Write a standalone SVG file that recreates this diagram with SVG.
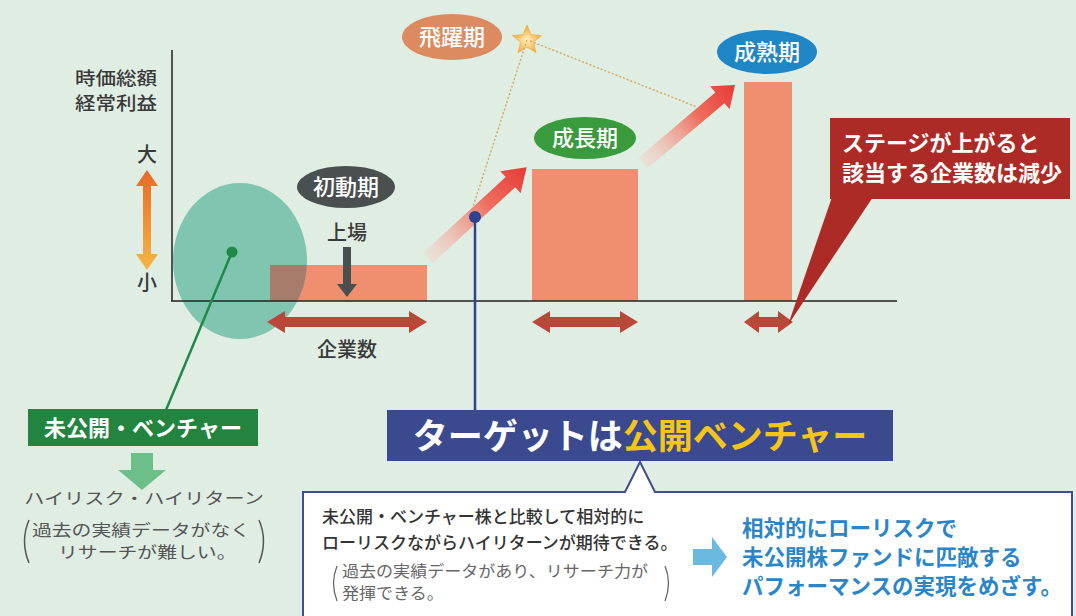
<svg xmlns="http://www.w3.org/2000/svg" width="1076" height="616" viewBox="0 0 1076 616">
<defs>
<style>
text{font-family:"Noto Sans CJK JP","Noto Sans",sans-serif}
.lab{fill:#3a3a3a;font-weight:500}
.pill{fill:#ffffff;font-weight:500;font-size:22px;text-anchor:middle}
.bar{fill:#f08f6f}
.dbl{fill:#b9473a}
.gray{fill:#555;font-size:16px}
.box{fill:#333;font-size:17px;font-weight:500}
.boxg{fill:#666;font-size:15.5px}
.blue{fill:#2a86c8;font-size:21.5px;font-weight:700}
.wht{fill:#fff;font-weight:700}
</style>
<linearGradient id="og" x1="0" y1="0" x2="0" y2="1">
<stop offset="0" stop-color="#e86a28"/><stop offset="1" stop-color="#f4b545"/>
</linearGradient>
<linearGradient id="rg" gradientUnits="userSpaceOnUse" x1="0" y1="0" x2="134" y2="0">
<stop offset="0" stop-color="#f8c8bc" stop-opacity="0.3"/><stop offset="0.6" stop-color="#ee6e5e"/><stop offset="1" stop-color="#e63a36"/>
</linearGradient>
<radialGradient id="sg" cx="0.5" cy="0.55" r="0.5">
<stop offset="0" stop-color="#fff3c0"/><stop offset="1" stop-color="#f1a83a"/>
</radialGradient>
<clipPath id="ec"><ellipse cx="240" cy="261" rx="67" ry="78"/></clipPath>
</defs>
<rect width="1076" height="616" fill="#e0ede3"/>

<g id="bars">
<rect class="bar" x="270" y="265" width="157" height="36"/>
<rect class="bar" x="532" y="169" width="106" height="132"/>
<rect class="bar" x="744" y="82" width="48" height="219"/>
</g>

<g id="unlisted-ellipse">
<ellipse cx="240" cy="261" rx="67" ry="78" fill="#80c5af"/>
<rect x="270" y="265" width="157" height="36" fill="#a67d6a" clip-path="url(#ec)"/>
</g>

<g id="axes">
<line x1="172" y1="50" x2="172" y2="301" stroke="#222" stroke-width="1.5"/>
<line x1="171" y1="301" x2="897" y2="301" stroke="#222" stroke-width="1.5"/>
<text class="lab" font-size="18" transform="translate(75,85) scale(1.14,1)">時価総額</text>
<text class="lab" font-size="18" transform="translate(75,110) scale(1.14,1)">経常利益</text>
<text class="lab" x="147" y="162" font-size="20" text-anchor="middle">大</text>
<text class="lab" x="147" y="290" font-size="20" text-anchor="middle">小</text>
<polygon fill="url(#og)" points="147,170 158,186 151,186 151,254 158,254 147,270 136,254 143,254 143,186 136,186"/>
</g>

<g id="count-arrows">
<polygon class="dbl" points="267,322 285,311 285,317 409,317 409,311 427,322 409,333 409,327 285,327 285,333"/>
<polygon class="dbl" points="532,322 550,311 550,317 620,317 620,311 638,322 620,333 620,327 550,327 550,333"/>
<polygon class="dbl" points="744,322 759,311 759,317 778,317 778,311 793,322 778,333 778,327 759,327 759,333"/>
<text class="lab" x="347" y="357" font-size="20" text-anchor="middle">企業数</text>
</g>

<g id="initial">
<ellipse cx="346" cy="187" rx="49" ry="21" fill="#4a4f4f"/>
<text class="pill" x="346" y="195">初動期</text>
<text class="lab" x="347" y="240" font-size="20" text-anchor="middle">上場</text>
<polygon fill="#4a4f4f" points="343,247 351,247 351,284 357,284 347,297 337,284 343,284"/>
</g>

<g id="growth">
<ellipse cx="585" cy="138" rx="51" ry="21" fill="#3a9a3e"/>
<text class="pill" x="585" y="146">成長期</text>
</g>

<g id="mature">
<ellipse cx="767" cy="52" rx="50" ry="22" fill="#1f86c6"/>
<text class="pill" x="767" y="60">成熟期</text>
</g>

<g id="leap">
<ellipse cx="452" cy="37" rx="50" ry="23" fill="#dc8a60"/>
<text class="pill" x="452" y="45" fill="#fff4ea">飛躍期</text>
<polygon fill="url(#sg)" stroke="#eeb24a" stroke-width="0.8" points="527,25 531,34.6 541.5,35.5 533.5,42.3 536,52.7 527,47 518,52.7 520.5,42.3 512.5,35.5 523,34.6"/>
</g>

<g id="connectors">
<line x1="527" y1="40" x2="472" y2="210" stroke="#d8aa62" stroke-width="1.5" stroke-dasharray="2,2"/>
<line x1="530" y1="41" x2="697" y2="107" stroke="#d8aa62" stroke-width="1.5" stroke-dasharray="2,2"/>
<polygon fill="url(#rg)" transform="translate(428,258) rotate(-42.6)" points="0,-7 112,-7 112,-15 134,0 112,15 112,7 0,7"/>
<polygon fill="url(#rg)" transform="translate(643,163) rotate(-40.3) scale(0.9,1)" points="0,-7 112,-7 112,-15 134,0 112,15 112,7 0,7"/>
<line x1="232" y1="252" x2="166" y2="410" stroke="#1f8a48" stroke-width="2.5"/>
<circle cx="232" cy="252" r="5.5" fill="#1f8a48"/>
<line x1="475" y1="217" x2="475" y2="411" stroke="#2f4291" stroke-width="2.5"/>
<circle cx="475" cy="217" r="6" fill="#2f4291"/>
</g>

<g id="callout">
<polygon fill="#ad2b26" points="832,197 873,197 788,325"/>
<rect x="830" y="118" width="240" height="81" fill="#ad2b26"/>
<text class="wht" font-size="22" font-weight="500"><tspan x="842" y="151">ステージが上がると</tspan><tspan x="842" y="181">該当する企業数は減少</tspan></text>
</g>

<g id="unlisted">
<rect x="28" y="409" width="230" height="37" fill="#22843f"/>
<text class="wht" x="143" y="436" font-size="22" text-anchor="middle">未公開・ベンチャー</text>
<polygon fill="#6dbf8a" points="131,453 153,453 153,470 166,470 142,490 118,470 131,470"/>
<text class="gray" text-anchor="middle" transform="translate(144,504) scale(1.26,1)">ハイリスク・ハイリターン</text>
<text class="gray" text-anchor="middle" transform="translate(141,536) scale(1.24,1)">過去の実績データがなく</text>
<text class="gray" transform="translate(58,558) scale(1.24,1)">リサーチが難しい。</text>
<path d="M29,520 Q20,541 29,563" fill="none" stroke="#555" stroke-width="1.5"/>
<path d="M259,520 Q268,541 259,563" fill="none" stroke="#555" stroke-width="1.5"/>
</g>

<g id="target">
<rect x="387" y="410" width="506" height="51" fill="#3b4a8f"/>
<text x="640" y="449" font-size="35" font-weight="700" text-anchor="middle"><tspan fill="#fff">ターゲットは</tspan><tspan fill="#f5c518">公開ベンチャー</tspan></text>
</g>

<g id="detail">
<path d="M303,620 V492 H625 L640,462 L655,492 H1072 V620" fill="#fff" stroke="#3d4d90" stroke-width="2"/>
<text class="box" x="322" y="523">未公開・ベンチャー株と比較して相対的に</text>
<text class="box" x="322" y="549">ローリスクながらハイリターンが期待できる。</text>
<text class="boxg" transform="translate(342,577) scale(1.1,1)">過去の実績データがあり、リサーチ力が</text>
<text class="boxg" transform="translate(342,599) scale(1.1,1)">発揮できる。</text>
<path d="M337,566 Q330,583 337,601" fill="none" stroke="#666" stroke-width="1.3"/>
<path d="M665,566 Q672,583 665,601" fill="none" stroke="#666" stroke-width="1.3"/>
<polygon fill="#6bb8e0" points="693,549 712,549 712,537 727,557 712,577 712,565 693,565"/>
<text class="blue" x="742" y="536">相対的にローリスクで</text>
<text class="blue" x="742" y="565">未公開株ファンドに匹敵する</text>
<text class="blue" x="742" y="594">パフォーマンスの実現をめざす。</text>
</g>
</svg>
